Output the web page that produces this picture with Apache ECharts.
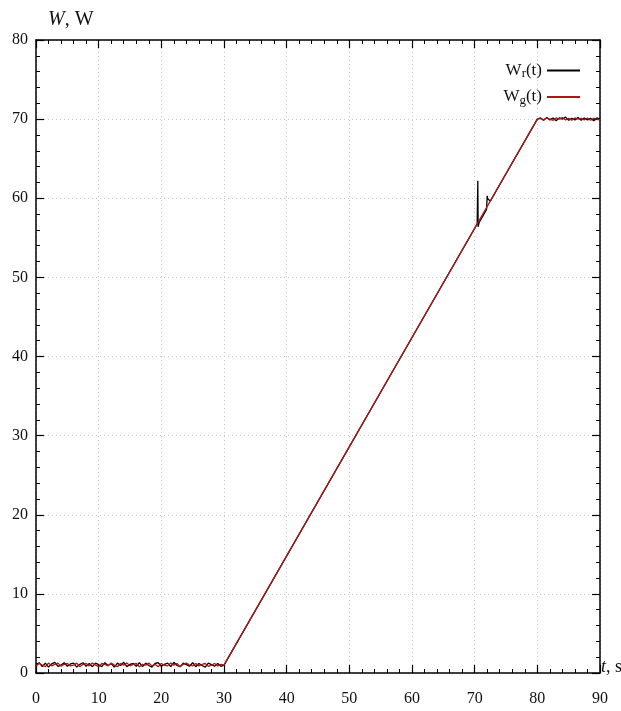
<!DOCTYPE html>
<html>
<head>
<meta charset="utf-8">
<script src="https://cdn.jsdelivr.net/npm/echarts@6/dist/echarts.min.js"></script>
<style>html,body{margin:0;padding:0;background:#fff}#c{width:621px;height:711px}</style>
</head>
<body>
<div id="c"></div>
<script>
// Wr(t) — black
const wrStart = [[0,1.1],[0.5,1.3],[1,0.8],[1.5,1.25],[2,0.75],[2.5,1.15],[3,1.35],[3.5,0.85],[4,1.0],[4.5,1.3],[5,0.85],[5.5,1.15],[6,1.25],[6.5,0.75],[7,1.1],[7.5,1.3],[8,0.85],[8.5,1.2],[9,0.8],[9.5,1.25],[10,1.05],[10.5,0.8],[11,1.3],[11.5,0.95],[12,1.2],[12.5,0.75],[13,1.25],[13.5,0.95],[14,1.35],[14.5,0.8],[15,1.1],[15.5,1.2],[16,0.85],[16.5,1.3],[17,0.8],[17.5,1.25],[18,0.95],[18.5,0.75],[19,1.2],[19.5,1.3],[20,0.85],[20.5,1.1],[21,1.25],[21.5,0.8],[22,1.35],[22.5,0.95],[23,0.8],[23.5,1.25],[24,1.05],[24.5,0.85],[25,1.3],[25.5,0.8],[26,1.2],[26.5,0.95],[27,0.75],[27.5,1.25],[28,1.05],[28.5,0.85],[29,1.2],[29.5,0.85],[30,1.0]];
const wrRamp = [[70.4,56.75],[70.5,62.2],[70.55,56.4],[70.7,56.9],[71.9,58.6],[72.0,60.3],[72.1,59.9],[72.5,59.65],[80,70.0]];
const wrEnd = [[80.5,70.15],[81,69.85],[81.5,70.2],[82,69.9],[82.5,70.15],[83,69.8],[83.5,70.15],[84,70.0],[84.5,70.25],[85,69.85],[85.5,70.1],[86,69.9],[86.5,70.2],[87,69.85],[87.5,70.15],[88,69.9],[88.5,70.1],[89,69.8],[89.5,70.15],[90,70.0]];
// Wg(t) — red
const wgStart = [[0,0.9],[0.5,1.2],[1,1.0],[1.5,0.8],[2,1.25],[2.5,0.9],[3,1.1],[3.5,1.25],[4,0.85],[4.5,1.1],[5,1.2],[5.5,0.9],[6,1.0],[6.5,1.25],[7,0.8],[7.5,1.1],[8,1.2],[8.5,0.9],[9,1.25],[9.5,1.0],[10,0.8],[10.5,1.2],[11,1.1],[11.5,0.9],[12,1.25],[12.5,1.0],[13,0.8],[13.5,1.2],[14,1.0],[14.5,1.25],[15,0.9],[15.5,1.1],[16,1.2],[16.5,0.8],[17,1.1],[17.5,1.0],[18,1.25],[18.5,0.9],[19,1.1],[19.5,0.8],[20,1.2],[20.5,1.0],[21,0.9],[21.5,1.25],[22,1.0],[22.5,1.2],[23,0.8],[23.5,1.1],[24,1.25],[24.5,1.0],[25,0.9],[25.5,1.2],[26,0.9],[26.5,1.1],[27,1.2],[27.5,0.85],[28,1.0],[28.5,1.2],[29,0.9],[29.5,1.1],[30,1.0]];
const wgRamp = [[80,70.0]];
const wgEnd = [[80.5,70.1],[81,69.9],[81.5,70.15],[82,70.0],[82.5,69.85],[83,70.15],[83.5,70.0],[84,70.2],[84.5,69.9],[85,70.1],[85.5,69.85],[86,70.15],[86.5,70.0],[87,70.1],[87.5,69.9],[88,70.15],[88.5,69.85],[89,70.1],[89.5,70.0],[90,69.9]];

const xTicks = {min:0, max:90, interval:10};
const yTicks = {min:0, max:80, interval:10};

const wrData = wrStart.concat(wrRamp, wrEnd);
const wgData = wgStart.concat(wgRamp, wgEnd);

const FONT = 'Liberation Serif';
const chart = echarts.init(document.getElementById('c'), null, {renderer:'canvas'});

function axisBase(show) {
  return {
    axisLine: {show:true, onZero:false, lineStyle:{color:'#000', width:1.5}},
    axisTick: {show:true, inside:true, length:8, lineStyle:{color:'#000', width:1.2}},
    minorTick: {show:true, splitNumber:5, length:4, lineStyle:{color:'#000', width:1}},
    axisLabel: {show:show, color:'#111', fontFamily:FONT, fontSize:16},
  };
}

chart.setOption({
  animation:false,
  backgroundColor:'#fff',
  grid:{left:36, right:21, top:40, bottom:38, containLabel:false, outerBoundsMode:'none'},
  legend:{
    right:36, top:57, orient:'vertical', align:'right', itemGap:8,
    itemWidth:33, itemHeight:2, icon:'rect',
    textStyle:{fontFamily:FONT, fontSize:17, color:'#111',
      rich:{s:{fontFamily:FONT, fontSize:13, verticalAlign:'bottom', padding:[7,0,0,0], color:'#111'}, n:{fontFamily:FONT, fontSize:17, color:'#111'}}},
    formatter: function(name){ return name==='Wr' ? '{n|W}{s|r}{n|(t)}' : '{n|W}{s|g}{n|(t)}'; },
    data:['Wr','Wg']
  },
  xAxis:[
    Object.assign(axisBase(true), {type:'value', position:'bottom', min:xTicks.min, max:xTicks.max, interval:xTicks.interval,
      axisLabel:{color:'#111', fontFamily:FONT, fontSize:16, margin:18},
      splitLine:{show:true, lineStyle:{color:'#c8c8c8', type:[1,3], width:1}},
      name:'{i|t}{n|, s}', nameLocation:'end', nameGap:1,
      nameTextStyle:{align:'left', verticalAlign:'middle', padding:[0,0,12,0], rich:{i:{fontFamily:FONT, fontStyle:'italic', fontSize:18, color:'#111'}, n:{fontFamily:FONT, fontSize:18, color:'#111'}}}
    }),
    Object.assign(axisBase(false), {type:'value', position:'top', min:xTicks.min, max:xTicks.max, interval:xTicks.interval, splitLine:{show:false}})
  ],
  yAxis:[
    Object.assign(axisBase(true), {type:'value', position:'left', min:yTicks.min, max:yTicks.max, interval:yTicks.interval,
      axisLabel:{color:'#111', fontFamily:FONT, fontSize:16, margin:8},
      splitLine:{show:true, lineStyle:{color:'#c8c8c8', type:[1,3], width:1}},
      name:'{i|W}{n|, W}', nameLocation:'end', nameGap:10,
      nameTextStyle:{align:'left', padding:[0,0,0,12], rich:{i:{fontFamily:FONT, fontStyle:'italic', fontSize:20, color:'#111'}, n:{fontFamily:FONT, fontSize:20, color:'#111'}}}
    }),
    Object.assign(axisBase(false), {type:'value', position:'right', min:yTicks.min, max:yTicks.max, interval:yTicks.interval, splitLine:{show:false}})
  ],
  series:[
    {name:'Wr', type:'line', data:wrData, showSymbol:false, symbol:'none', color:'#000', lineStyle:{color:'#000', width:1.3}, z:2},
    {name:'Wg', type:'line', data:wgData, showSymbol:false, symbol:'none', color:'#a81818', lineStyle:{color:'#a81818', width:1.3}, z:3}
  ]
});
</script>
</body>
</html>
